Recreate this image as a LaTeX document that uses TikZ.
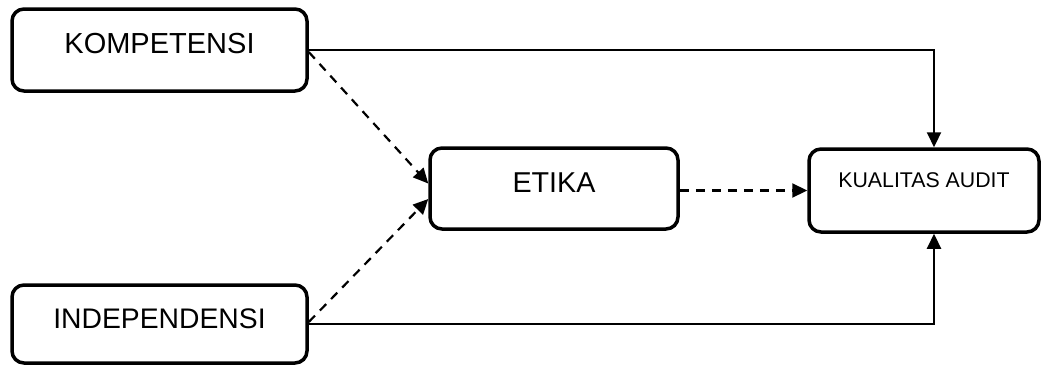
\documentclass[tikz,border=0pt]{standalone}
\usepackage{fontspec}
\setmainfont{Liberation Sans}
\usetikzlibrary{arrows.meta}
\begin{document}
\begin{tikzpicture}[x=1pt,y=-1pt,
  varbox/.style={draw, line width=3.5pt, rounded corners=12pt, inner sep=0pt, align=center},
  link/.style={line width=2.2pt, -{Triangle[length=15pt,width=14pt]}},
  dashlink/.style={link, dash pattern=on 9pt off 7pt}]
\useasboundingbox (0,0) rectangle (1041,364);

\node[varbox, minimum width=295pt, text height=44pt, text depth=38pt,
      font=\fontsize{29}{34}\selectfont] (kom) at (159.5,50) {KOMPETENSI};
\node[varbox, minimum width=295pt, text height=43pt, text depth=35pt,
      font=\fontsize{28.3}{34}\selectfont] (ind) at (159.5,324) {INDEPENDENSI};
\node[varbox, minimum width=248pt, text height=44pt, text depth=37pt,
      font=\fontsize{28.7}{34}\selectfont] (eti) at (554,188.5) {ETIKA};
\node[varbox, minimum width=230pt, text height=38pt, text depth=45pt,
      font=\fontsize{21.3}{26}\selectfont] (kua) at (924,190.5) {KUALITAS AUDIT};

% direct paths
\draw[link] (kom.east) -| ([xshift=10pt]kua.north);
\draw[link] (ind.east) -| ([xshift=10pt]kua.south);

% paths through ETIKA
\draw[dashlink] ([yshift=-2pt]kom.east) -- ([yshift=5pt]eti.west);
\draw[dashlink] ([yshift=2pt]ind.east) -- ([yshift=-10.5pt]eti.west);
\draw[dashlink] (eti.east |- kua.west) -- (kua.west);
\end{tikzpicture}
\end{document}
